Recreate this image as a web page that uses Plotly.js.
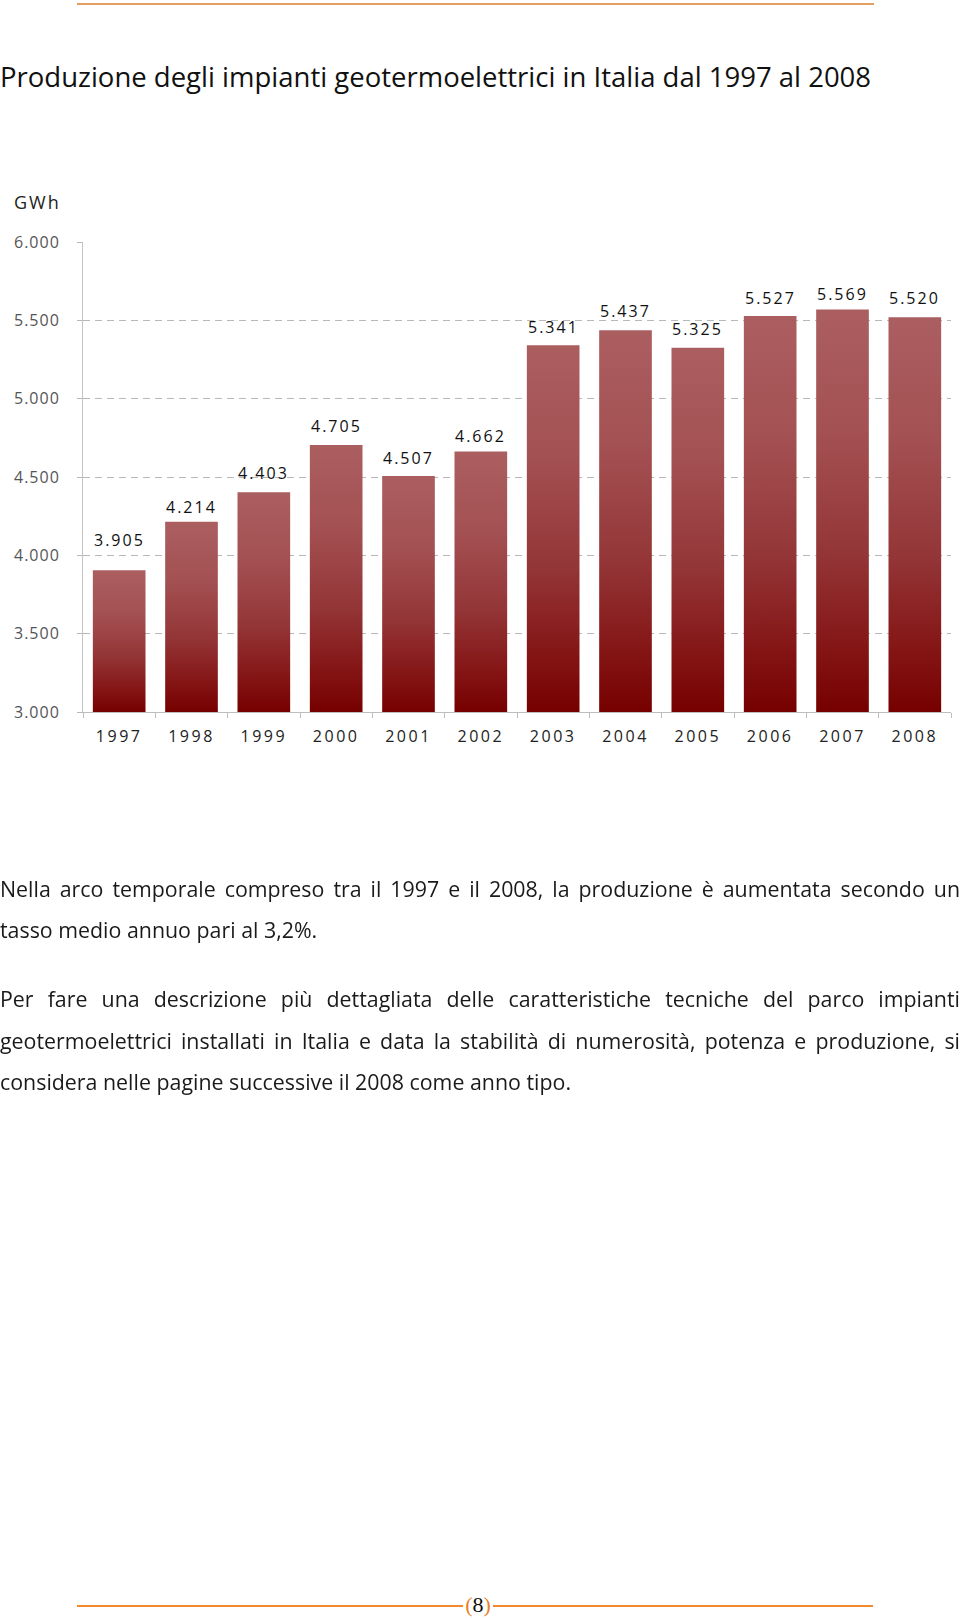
<!DOCTYPE html>
<html>
<head>
<meta charset="utf-8">
<script src="https://cdn.plot.ly/plotly-3.0.1.min.js"></script>
<style>
  html, body { margin: 0; padding: 0; background: #fff; }
  body { width: 960px; height: 1620px; position: relative; overflow: hidden; }
  #chart { position: absolute; left: 0; top: 0; width: 960px; height: 800px; }
  .xtick text { letter-spacing: 2.5px; }
  .ytick text { letter-spacing: 1px; }
  .annotation-text { letter-spacing: 2px; }
  .rule { position: absolute; height: 2px; z-index: 5; }
  #body-text { position: absolute; left: 0; top: 0; transform-origin: 0 0;
               font-family: 'Open Sans', 'Noto Sans', sans-serif; font-size: 21px; color: #1a1a1a; }
  .line { height: 41.4px; line-height: 41.4px; text-align: justify; text-align-last: justify; }
  .line.last { text-align-last: left; }
  #measure { position: absolute; visibility: hidden; white-space: nowrap;
             font-family: 'Open Sans', 'Noto Sans', sans-serif; font-size: 21px; }
  #pagenum { position: absolute; left: 463px; top: 1592px; width: 30px; text-align: center; z-index: 6;
             font-family: 'Liberation Serif', 'DejaVu Serif', serif; font-size: 22px; line-height: 26px;
             background: #fff; color: #111; }
  #pagenum span { color: #e8822a; }
</style>
</head>
<body>
<svg id="gradsvg" width="0" height="0" style="position:absolute"><defs></defs></svg>
<div id="chart"></div>
<div class="rule" style="left:77px; top:3px; width:797px; background:#e39f62;"></div>
<div id="body-text"></div>
<span id="measure"></span>
<div class="rule" style="left:77px; top:1605px; width:796px; background:#f08a2c;"></div>
<div id="pagenum"><span>(</span>8<span>)</span></div>
<script>
// ---- data ----
const years = ['1997','1998','1999','2000','2001','2002','2003','2004','2005','2006','2007','2008'];
const production = [3905, 4214, 4403, 4705, 4507, 4662, 5341, 5437, 5325, 5527, 5569, 5520];
const valueLabels = ['3.905','4.214','4.403','4.705','4.507','4.662','5.341','5.437','5.325','5.527','5.569','5.520'];
const yTickVals = [3000, 3500, 4000, 4500, 5000, 5500, 6000];
const yTickText = ['3.000','3.500','4.000','4.500','5.000','5.500','6.000'];

// label offsets above each bar (px)
const labelShift = [30, 15, 19, 19, 18, 16, 18, 19, 19, 18, 16, 19];

const gradStops = [[0, '#ab5e60'], [0.3, '#a45153'], [0.6, '#943638'], [0.85, '#841414'], [1, '#760000']];

const W = 960, H = 800;
const mL = 82.7, mR = 9, mT = 241.7, mB = 88;

const trace = {
  type: 'bar',
  x: years,
  y: production,
  marker: { color: '#943638', line: { width: 0 } },
  hoverinfo: 'none'
};

const annotations = years.map((yr, i) => ({
  x: i, y: production[i], xref: 'x', yref: 'y',
  text: valueLabels[i], showarrow: false,
  xanchor: 'center', yanchor: 'middle', yshift: labelShift[i],
  font: { family: 'Open Sans, Noto Sans, sans-serif', size: 16, color: '#111' }
}));
annotations.push({
  xref: 'paper', yref: 'paper', x: (12 - mL) / (W - mL - mR), y: (H - mB - 202) / (H - mT - mB),
  xanchor: 'left', yanchor: 'middle', text: 'GWh', showarrow: false,
  font: { family: 'Open Sans, Noto Sans, sans-serif', size: 18, color: '#222' }
});

const layout = {
  width: W, height: H,
  margin: { l: mL, r: mR, t: mT, b: mB, pad: 0 },
  paper_bgcolor: 'rgba(0,0,0,0)', plot_bgcolor: 'rgba(0,0,0,0)',
  showlegend: false,
  bargap: 0.272,
  title: {
    text: 'Produzione degli impianti geotermoelettrici in Italia dal 1997 al 2008',
    x: 0, xref: 'container', xanchor: 'left',
    y: 1 - 77.5 / H, yref: 'container', yanchor: 'middle',
    font: { family: 'Open Sans, Noto Sans, sans-serif', size: 27.5, color: '#111' }
  },
  xaxis: {
    type: 'category',
    range: [-0.5, years.length - 0.5],
    showgrid: false, zeroline: false,
    showline: true, linecolor: '#bdbdbd', linewidth: 1,
    ticks: 'outside', tickson: 'boundaries', ticklen: 5, tickcolor: '#bdbdbd',
    ticklabelstandoff: 10, tickangle: 0,
    tickfont: { family: 'Open Sans, Noto Sans, sans-serif', size: 16, color: '#222' }
  },
  yaxis: {
    range: [3000, 6000],
    tickmode: 'array', tickvals: yTickVals, ticktext: yTickText,
    showgrid: true, gridcolor: '#b8b8b8', griddash: '7px,5px', gridwidth: 1,
    zeroline: false,
    showline: true, linecolor: '#c4c4c4', linewidth: 1,
    ticks: 'outside', ticklen: 5, tickcolor: '#b8b8b8',
    ticklabelstandoff: 14,
    tickfont: { family: 'Open Sans, Noto Sans, sans-serif', size: 16, color: '#555' }
  },
  annotations: annotations
};

function applyGradient(gd) {
  const svgNS = 'http://www.w3.org/2000/svg';
  const defs = document.querySelector('#gradsvg defs');
  defs.innerHTML = '';
  const bottom = gd._fullLayout._size.h; // plot-area bottom in the bars' local coordinates
  gd.querySelectorAll('.bars .point path').forEach((p, i) => {
    const top = p.getBBox().y;
    const g = document.createElementNS(svgNS, 'linearGradient');
    g.setAttribute('id', 'barGrad' + i);
    g.setAttribute('gradientUnits', 'userSpaceOnUse');
    g.setAttribute('x1', '0'); g.setAttribute('x2', '0');
    g.setAttribute('y1', String(top)); g.setAttribute('y2', String(bottom));
    gradStops.forEach(([o, c]) => {
      const s = document.createElementNS(svgNS, 'stop');
      s.setAttribute('offset', String(o)); s.setAttribute('stop-color', c);
      g.appendChild(s);
    });
    defs.appendChild(g);
    p.style.setProperty('fill', 'url(#barGrad' + i + ')', 'important');
    p.style.setProperty('fill-opacity', '1', 'important');
  });
}

Plotly.newPlot('chart', [trace], layout, { staticPlot: true, displayModeBar: false }).then(gd => {
  applyGradient(gd);
});

// ---- body text ----
const paragraphs = [
  ['Nella arco temporale compreso tra il 1997 e il 2008, la produzione è aumentata secondo un',
   'tasso medio annuo pari al 3,2%.'],
  ['Per fare una descrizione più dettagliata delle caratteristiche tecniche del parco impianti',
   'geotermoelettrici installati in Italia e data la stabilità di numerosità, potenza e produzione, si',
   'considera nelle pagine successive il 2008 come anno tipo.']
];
const paraTops = [869, 979.3];
const meas = document.getElementById('measure');
meas.textContent = 'considera nelle pagine successive il 2008 come anno tipo.';
const scale = 571 / meas.getBoundingClientRect().width;
const bt = document.getElementById('body-text');
bt.style.transform = 'scaleX(' + scale + ')';
const innerW = 960 / scale;
paragraphs.forEach((lines, pi) => {
  const p = document.createElement('div');
  p.style.position = 'absolute';
  p.style.left = '0px';
  p.style.top = paraTops[pi] + 'px';
  p.style.width = innerW + 'px';
  lines.forEach((t, li) => {
    const d = document.createElement('div');
    d.className = 'line' + (li === lines.length - 1 ? ' last' : '');
    d.textContent = t;
    p.appendChild(d);
  });
  bt.appendChild(p);
});
</script>
</body>
</html>
